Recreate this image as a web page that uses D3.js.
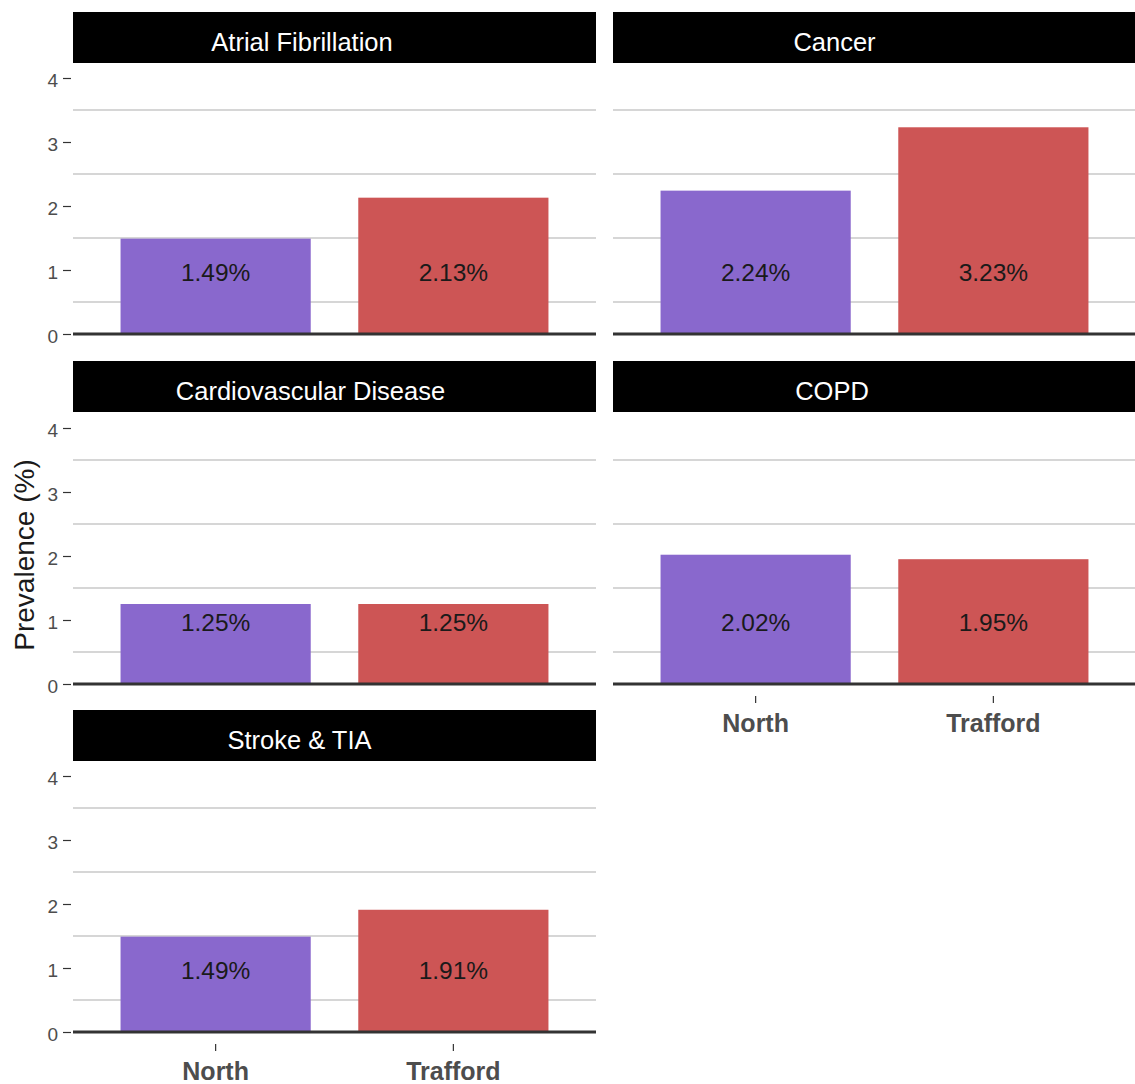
<!DOCTYPE html>
<html>
<head>
<meta charset="utf-8">
<script src="https://cdn.jsdelivr.net/npm/d3@7/dist/d3.min.js"></script>
<style>
  html, body { margin: 0; padding: 0; background: #fff; }
  svg { display: block; font-family: "Liberation Sans", Arial, sans-serif; }
</style>
</head>
<body>
<svg id="chart" width="1135" height="1084"></svg>
<script>
// ---- data ----
const diseases = ["Atrial Fibrillation", "Cancer", "Cardiovascular Disease", "COPD", "Stroke & TIA"];
const areas = ["North", "Trafford"];
const northValues = [1.49, 2.24, 1.25, 2.02, 1.49];
const traffordValues = [2.13, 3.23, 1.25, 1.95, 1.91];
const yTickValues = [0, 1, 2, 3, 4];
const gridValues = [0.5, 1.5, 2.5, 3.5];
const areaColors = ["#8968CD", "#CD5555"];
const yTitle = "Prevalence (%)";

// ---- layout ----
const W = 1135, H = 1084;
const colLeft = [73, 613];
const panelW = 523;
const stripTop = [12, 361, 710];
const stripH = 51;
const panelBottom = [334, 684, 1032];
const unitPx = 64;
// strip label horizontal shift (label not exactly centred in reference)
const stripShift = [-32.5, -40, -24, -42.5, -35];

const svg = d3.select("#chart");

const x = d3.scaleBand().domain(areas).range([0, panelW]).paddingInner(0.2).paddingOuter(0.2);
const color = d3.scaleOrdinal().domain(areas).range(areaColors);

diseases.forEach((name, i) => {
  const col = i % 2, row = Math.floor(i / 2);
  const left = colLeft[col];
  const bottom = panelBottom[row];
  const y = d3.scaleLinear().domain([0, 4]).range([bottom, bottom - 4 * unitPx]);
  const vals = [northValues[i], traffordValues[i]];
  const data = areas.map((a, k) => ({ area: a, value: vals[k] }));

  const g = svg.append("g").attr("transform", `translate(${left},0)`);

  // strip
  g.append("rect").attr("x", 0).attr("y", stripTop[row]).attr("width", panelW).attr("height", stripH).attr("fill", "#000");
  g.append("text")
    .attr("x", panelW / 2 + stripShift[i])
    .attr("y", stripTop[row] + stripH / 2 + 4.5)
    .attr("dy", "0.35em")
    .attr("text-anchor", "middle")
    .attr("fill", "#fff")
    .attr("font-size", 25.5)
    .text(name);

  // grid (half-unit lines)
  g.selectAll("line.grid").data(gridValues).enter().append("line")
    .attr("x1", 0).attr("x2", panelW)
    .attr("y1", d => y(d)).attr("y2", d => y(d))
    .attr("stroke", "#c8c8c8").attr("stroke-width", 1.6);

  // bars
  g.selectAll("rect.bar").data(data).enter().append("rect")
    .attr("x", d => x(d.area))
    .attr("width", x.bandwidth())
    .attr("y", d => y(d.value))
    .attr("height", d => y(0) - y(d.value))
    .attr("fill", d => color(d.area));

  // labels
  g.selectAll("text.lbl").data(data).enter().append("text")
    .attr("x", d => x(d.area) + x.bandwidth() / 2)
    .attr("y", y(1) + 2)
    .attr("dy", "0.35em")
    .attr("text-anchor", "middle")
    .attr("fill", "#1a1a1a")
    .attr("font-size", 24.5)
    .text(d => d.value.toFixed(2) + "%");

  // axis line
  g.append("line").attr("x1", 0).attr("x2", panelW).attr("y1", bottom).attr("y2", bottom)
    .attr("stroke", "#333333").attr("stroke-width", 3);

  // y axis (left column only)
  if (col === 0) {
    const ya = g.append("g").call(d3.axisLeft(y).tickValues(yTickValues).tickFormat(d3.format("d")).tickSize(8).tickPadding(5));
    ya.select(".domain").remove();
    ya.selectAll(".tick line").attr("stroke", "#333").attr("stroke-width", 1.2).attr("transform", "translate(-2,0)");
    ya.selectAll(".tick text").attr("font-size", 19).attr("fill", "#4d4d4d")
      .attr("font-family", "Liberation Sans, Arial, sans-serif").attr("dx", -2).attr("dy", "0.45em");
  }

  // x axis (bottom panel of each column)
  const isBottom = (i + 2 >= diseases.length);
  if (isBottom) {
    const xa = g.append("g").attr("transform", `translate(0,${bottom + 12})`)
      .call(d3.axisBottom(x).tickSize(7).tickPadding(0));
    xa.select(".domain").remove();
    xa.selectAll(".tick line").attr("stroke", "#333").attr("stroke-width", 1.2);
    xa.selectAll(".tick text")
      .attr("y", 35.5).attr("dy", 0)
      .attr("font-size", 25).attr("font-weight", "bold").attr("fill", "#4d4d4d")
      .attr("font-family", "Liberation Sans, Arial, sans-serif");
  }
});

// y axis title
svg.append("text")
  .attr("transform", `translate(34,555) rotate(-90)`)
  .attr("text-anchor", "middle")
  .attr("fill", "#1a1a1a")
  .attr("font-size", 28)
  .text(yTitle);
</script>
</body>
</html>
